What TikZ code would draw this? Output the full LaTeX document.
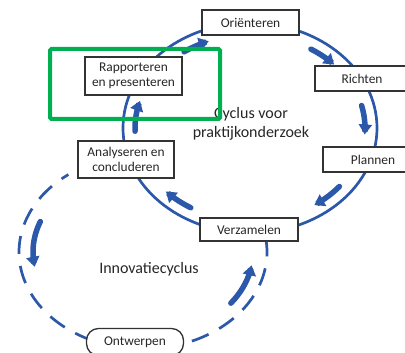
\documentclass[tikz,border=0pt]{standalone}
\usepackage{fontspec}
\setmainfont{Carlito}
\usepackage{tikz}
\usetikzlibrary{arrows.meta}

\definecolor{cyclusblue}{RGB}{44,88,170}
\definecolor{markgreen}{RGB}{0,176,80}

\begin{document}
\begin{tikzpicture}[x=1pt,y=-1pt,
  box/.style={draw=black!80,line width=1.3pt,fill=white,inner sep=0pt,align=center,
    font=\fontsize{13.4}{15}\selectfont,text=black!85},
  cycleline/.style={cyclusblue,line width=2.7pt},
  dashline/.style={cyclusblue,line width=2.7pt,dash pattern=on 18pt off 12pt},
  flow/.style={cyclusblue,line width=5.5pt,line cap=round,-{Triangle[length=10pt,width=13pt]}},
  label/.style={align=center,font=\fontsize{16}{19}\selectfont,text=black!85}]

\useasboundingbox (0,0) rectangle (405,353);
\clip (0,0) rectangle (405,353);

% cycles
\draw[cycleline] (250,128) ellipse [x radius=127pt, y radius=105pt];
\draw[dashline] plot[domain=-8:233, samples=60, smooth] ({143+124*cos(\x)},{252+97*sin(\x)});

% arrows, upper cycle
\draw[flow] plot[domain=235:249, samples=8, smooth] ({250+115*cos(\x)},{128+93*sin(\x)});
\draw[flow] plot[domain=302:317, samples=8, smooth] ({250+115*cos(\x)},{128+93*sin(\x)});
\draw[flow] plot[domain=346:364, samples=8, smooth] ({250+115*cos(\x)},{128+93*sin(\x)});
\draw[flow] plot[domain=39:56, samples=8, smooth] ({250+115*cos(\x)},{128+93*sin(\x)});
\draw[flow] plot[domain=121:137, samples=8, smooth] ({250+115*cos(\x)},{128+93*sin(\x)});
\draw[flow] plot[domain=178:197, samples=8, smooth] ({250+115*cos(\x)},{128+93*sin(\x)});

% arrows, lower cycle
\draw[flow] plot[domain=201:170, samples=8, smooth] ({143+110*cos(\x)},{252+85*sin(\x)});
\draw[flow] plot[domain=37:9, samples=8, smooth] ({143+110*cos(\x)},{252+85*sin(\x)});

% steps
\node[box,minimum width=97pt,minimum height=25pt] (orient) at (250.5,22.5) {Oriënteren};
\node[box,minimum width=94pt,minimum height=25pt] (richt) at (362,78.5) {Richten};
\node[box,minimum width=100pt,minimum height=25pt] (plan) at (373,159.5) {Plannen};
\node[box,minimum width=98pt,minimum height=23pt] (verz) at (249,229.5) {Verzamelen};
\node[box,minimum width=96pt,minimum height=37pt] (analyse) at (126,159.5) {Analyseren en\\concluderen};
\node[box,minimum width=97pt,minimum height=38pt] (rapport) at (133.5,76) {Rapporteren\\en presenteren};
\node[box,rounded corners=12pt,minimum width=97pt,minimum height=27pt] (ontwerp) at (135,342) {Ontwerpen};

\node[label] (praktijk) at (251,124) {Cyclus voor\\praktijkonderzoek};
\node[label] (innov) at (149,269) {Innovatiecyclus};

% highlight
\draw[markgreen,line width=4pt,rounded corners=1.5pt] (50,49) rectangle (220,119);

\end{tikzpicture}
\end{document}
